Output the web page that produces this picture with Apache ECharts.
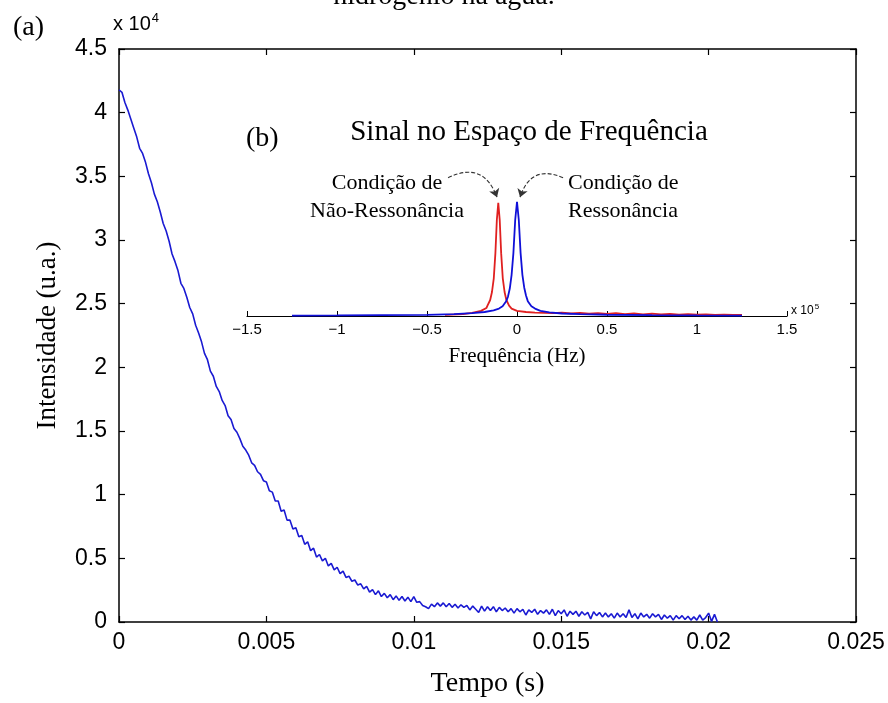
<!DOCTYPE html>
<html>
<head>
<meta charset="utf-8">
<script src="https://cdn.jsdelivr.net/npm/echarts@6/dist/echarts.min.js"></script>
<style>
html,body{margin:0;padding:0;background:#fff;}
#chart{width:888px;height:703px;}
</style>
</head>
<body>
<div id="chart"></div>
<script>
// ---- Data (main panel, intensity in units of 10^4, sampled every 0.1 ms) ----
const timeStart = 0;
const timeStep = 0.0001;
const intensity = [
4.18,4.16,4.08,4.02,3.95,3.88,3.81,3.72,3.68,3.61,
3.52,3.45,3.36,3.30,3.22,3.13,3.07,2.99,2.89,2.83,
2.76,2.66,2.62,2.55,2.47,2.42,2.33,2.27,2.20,2.11,
2.06,1.97,1.93,1.85,1.81,1.74,1.70,1.62,1.59,1.52,
1.49,1.44,1.38,1.35,1.31,1.25,1.23,1.18,1.16,1.11,
1.10,1.03,1.02,0.95,0.95,0.87,0.88,0.80,0.80,0.73,
0.74,0.67,0.68,0.61,0.63,0.56,0.58,0.51,0.53,0.48,
0.50,0.44,0.46,0.41,0.43,0.38,0.40,0.35,0.36,0.32,
0.33,0.29,0.30,0.26,0.28,0.235,0.255,0.215,0.245,0.20,
0.225,0.19,0.215,0.175,0.205,0.17,0.20,0.165,0.195,0.16,
0.20,0.155,0.16,0.13,0.12,0.105,0.14,0.12,0.15,0.125,
0.15,0.12,0.145,0.115,0.14,0.11,0.135,0.115,0.13,0.095,
0.125,0.10,0.075,0.125,0.085,0.12,0.09,0.12,0.08,0.115,
0.09,0.11,0.08,0.105,0.07,0.105,0.08,0.10,0.055,0.095,
0.075,0.10,0.06,0.09,0.07,0.095,0.06,0.10,0.05,0.09,
0.065,0.095,0.045,0.085,0.06,0.085,0.045,0.08,0.055,0.075,
0.025,0.08,0.05,0.075,0.04,0.07,0.04,0.065,0.03,0.07,
0.04,0.065,0.035,0.095,0.035,0.065,0.025,0.07,0.04,0.06,
0.03,0.065,0.04,0.06,0.02,0.055,0.03,0.05,0.015,0.05,
0.025,0.05,0.02,0.045,0.015,0.04,0.015,0.055,0.015,0.035,
0.07,0.005,0.06,0.0
];
const timeTicks = [0, 0.005, 0.01, 0.015, 0.02, 0.025];
const intensityTicks = [0, 0.5, 1, 1.5, 2, 2.5, 3, 3.5, 4, 4.5];

// ---- Data (inset, frequency in units of 10^5 Hz, normalised amplitude) ----
const resonanceFreq = [-1.25,-1.0,-0.75,-0.5,-0.35,-0.25,-0.18,-0.13,-0.1,-0.08,-0.06,-0.05,-0.04,-0.03,-0.02,-0.01,0,0.01,0.02,0.03,0.04,0.05,0.06,0.08,0.1,0.13,0.18,0.25,0.35,0.5,0.75,1.0,1.25];
const resonanceAmp  = [0.004,0.005,0.007,0.01,0.017,0.025,0.035,0.05,0.065,0.085,0.13,0.17,0.24,0.36,0.55,0.84,1.0,0.84,0.55,0.36,0.25,0.18,0.13,0.085,0.065,0.045,0.032,0.022,0.016,0.011,0.007,0.005,0.004];
const offResFreq = [-0.4,-0.3,-0.25,-0.2,-0.17,-0.164,-0.149,-0.139,-0.129,-0.12,-0.112,-0.104,-0.096,-0.088,-0.079,-0.069,-0.059,-0.044,-0.03,0,0.05,0.1,0.15,0.2,0.25,0.3,0.35,0.4,0.45,0.5,0.55,0.6,0.65,0.7,0.75,0.8,0.85,0.9,0.95,1.0,1.05,1.1,1.15,1.2,1.25];
const offResAmp  = [0.01,0.016,0.028,0.045,0.07,0.09,0.14,0.21,0.33,0.55,0.84,0.99,0.84,0.55,0.33,0.21,0.14,0.09,0.065,0.045,0.035,0.03,0.028,0.025,0.03,0.022,0.028,0.02,0.026,0.018,0.024,0.017,0.022,0.015,0.02,0.014,0.018,0.012,0.016,0.011,0.014,0.01,0.012,0.009,0.01];
const freqTicks = [-1.5, -1, -0.5, 0, 0.5, 1, 1.5];
// annotation arrows: [from, to] in (frequency, amplitude)
const arrowNonRes = [[-0.383, 1.21], [-0.111, 1.04]];
const arrowRes    = [[0.256, 1.21], [0.017, 1.04]];

const SERIF = "'Liberation Serif','Times New Roman',serif";
const SANS = "'Liberation Sans',Arial,Helvetica,sans-serif";

const chart = echarts.init(document.getElementById('chart'), null, {renderer:'canvas'});

const mainData = intensity.map((v, i) => [timeStart + i * timeStep, v]);
const minus = s => String(s).replace('-', '\u2212');

const boxAxisCommon = {
  axisLine: {show: true, onZero: false, lineStyle: {color: '#000', width: 1.5}},
  axisTick: {show: true, inside: true, length: 6, lineStyle: {color: '#000', width: 1.2}},
  splitLine: {show: false}
};

const option = {
  animation: false,
  backgroundColor: '#ffffff',
  grid: [
    {left: 119, right: 32, top: 49, bottom: 78, containLabel: false},
    {left: 247, right: 101, top: 156, bottom: 387, containLabel: false}
  ],
  xAxis: [
    Object.assign({}, boxAxisCommon, {
      type: 'value', gridIndex: 0, position: 'bottom',
      min: timeTicks[0], max: timeTicks[timeTicks.length - 1], interval: 0.005,
      axisLabel: {show: true, color: '#000', fontFamily: SANS, fontSize: 23, margin: 9},
      name: 'Tempo (s)', nameLocation: 'middle', nameGap: 48,
      nameTextStyle: {color: '#000', fontFamily: SERIF, fontSize: 28}
    }),
    Object.assign({}, boxAxisCommon, {
      type: 'value', gridIndex: 0, position: 'top',
      min: timeTicks[0], max: timeTicks[timeTicks.length - 1], interval: 0.005,
      axisLabel: {show: false}
    }),
    {
      type: 'value', gridIndex: 1, position: 'bottom',
      min: freqTicks[0], max: freqTicks[freqTicks.length - 1], interval: 0.5,
      axisLine: {show: true, onZero: false, lineStyle: {color: '#000', width: 1.2}},
      axisTick: {show: true, inside: true, length: 5, lineStyle: {color: '#000', width: 1}},
      splitLine: {show: false},
      axisLabel: {show: true, color: '#000', fontFamily: SANS, fontSize: 15, margin: 6, formatter: v => minus(v)},
      name: 'Frequência (Hz)', nameLocation: 'middle', nameGap: 30,
      nameTextStyle: {color: '#000', fontFamily: SERIF, fontSize: 21}
    }
  ],
  yAxis: [
    Object.assign({}, boxAxisCommon, {
      type: 'value', gridIndex: 0, position: 'left',
      min: intensityTicks[0], max: intensityTicks[intensityTicks.length - 1], interval: 0.5,
      axisLabel: {show: true, color: '#000', fontFamily: SANS, fontSize: 23, margin: 12},
      name: 'Intensidade (u.a.)', nameLocation: 'middle', nameGap: 58, nameRotate: 90,
      nameTextStyle: {color: '#000', fontFamily: SERIF, fontSize: 27}
    }),
    Object.assign({}, boxAxisCommon, {
      type: 'value', gridIndex: 0, position: 'right',
      min: intensityTicks[0], max: intensityTicks[intensityTicks.length - 1], interval: 0.5,
      axisLabel: {show: false}
    }),
    {
      type: 'value', gridIndex: 1, min: 0, max: 1.4, show: false
    }
  ],
  series: [
    {
      type: 'line', xAxisIndex: 0, yAxisIndex: 0, data: mainData,
      showSymbol: false, symbol: 'none', smooth: false,
      lineStyle: {color: '#1a1ad2', width: 1.6}
    },
    {
      type: 'line', xAxisIndex: 2, yAxisIndex: 2,
      data: offResFreq.map((f, i) => [f, offResAmp[i]]),
      showSymbol: false, symbol: 'none', smooth: false,
      lineStyle: {color: '#e02020', width: 1.8}
    },
    {
      type: 'line', xAxisIndex: 2, yAxisIndex: 2,
      data: resonanceFreq.map((f, i) => [f, resonanceAmp[i]]),
      showSymbol: false, symbol: 'none', smooth: false,
      lineStyle: {color: '#1010d8', width: 1.8}
    },
    {
      type: 'lines', coordinateSystem: 'cartesian2d', xAxisIndex: 2, yAxisIndex: 2,
      clip: false, silent: true,
      symbol: ['none', 'arrow'], symbolSize: 8,
      lineStyle: {color: '#333', width: 1.1, type: [4, 2], curveness: 0.55, opacity: 1},
      data: [{coords: arrowNonRes}, {coords: arrowRes, lineStyle: {curveness: -0.55}}]
    }
  ],
  graphic: [
    {type: 'text', left: 'center', top: -17, style: {text: 'hidrogênio na água.', font: '28px ' + SERIF, fill: '#000'}},
    {type: 'text', x: 13, y: 14, style: {text: '(a)', font: '28px ' + SERIF, fill: '#000'}},
    {type: 'text', x: 113, y: 12, style: {
      text: 'x 10{sup|4}', font: '20px ' + SANS, fill: '#000',
      rich: {sup: {fontSize: 13, fontFamily: SANS, padding: [0, 0, 12, 1]}}
    }},
    {type: 'text', x: 246, y: 125, style: {text: '(b)', font: '28px ' + SERIF, fill: '#000'}},
    {type: 'text', x: 529, y: 118, style: {text: 'Sinal no Espaço de Frequência', font: '29px ' + SERIF, fill: '#000', textAlign: 'center'}},
    {type: 'text', x: 387, y: 172, style: {text: 'Condição de', font: '22px ' + SERIF, fill: '#000', textAlign: 'center'}},
    {type: 'text', x: 387, y: 200, style: {text: 'Não-Ressonância', font: '22px ' + SERIF, fill: '#000', textAlign: 'center'}},
    {type: 'text', x: 568, y: 172, style: {text: 'Condição de', font: '22px ' + SERIF, fill: '#000'}},
    {type: 'text', x: 568, y: 200, style: {text: 'Ressonância', font: '22px ' + SERIF, fill: '#000'}},
    {type: 'text', x: 791, y: 303, style: {
      text: 'x 10{sup|5}', font: '12px ' + SANS, fill: '#000',
      rich: {sup: {fontSize: 8, fontFamily: SANS, padding: [0, 0, 7, 1]}}
    }}
  ]
};
chart.setOption(option);
</script>
</body>
</html>
